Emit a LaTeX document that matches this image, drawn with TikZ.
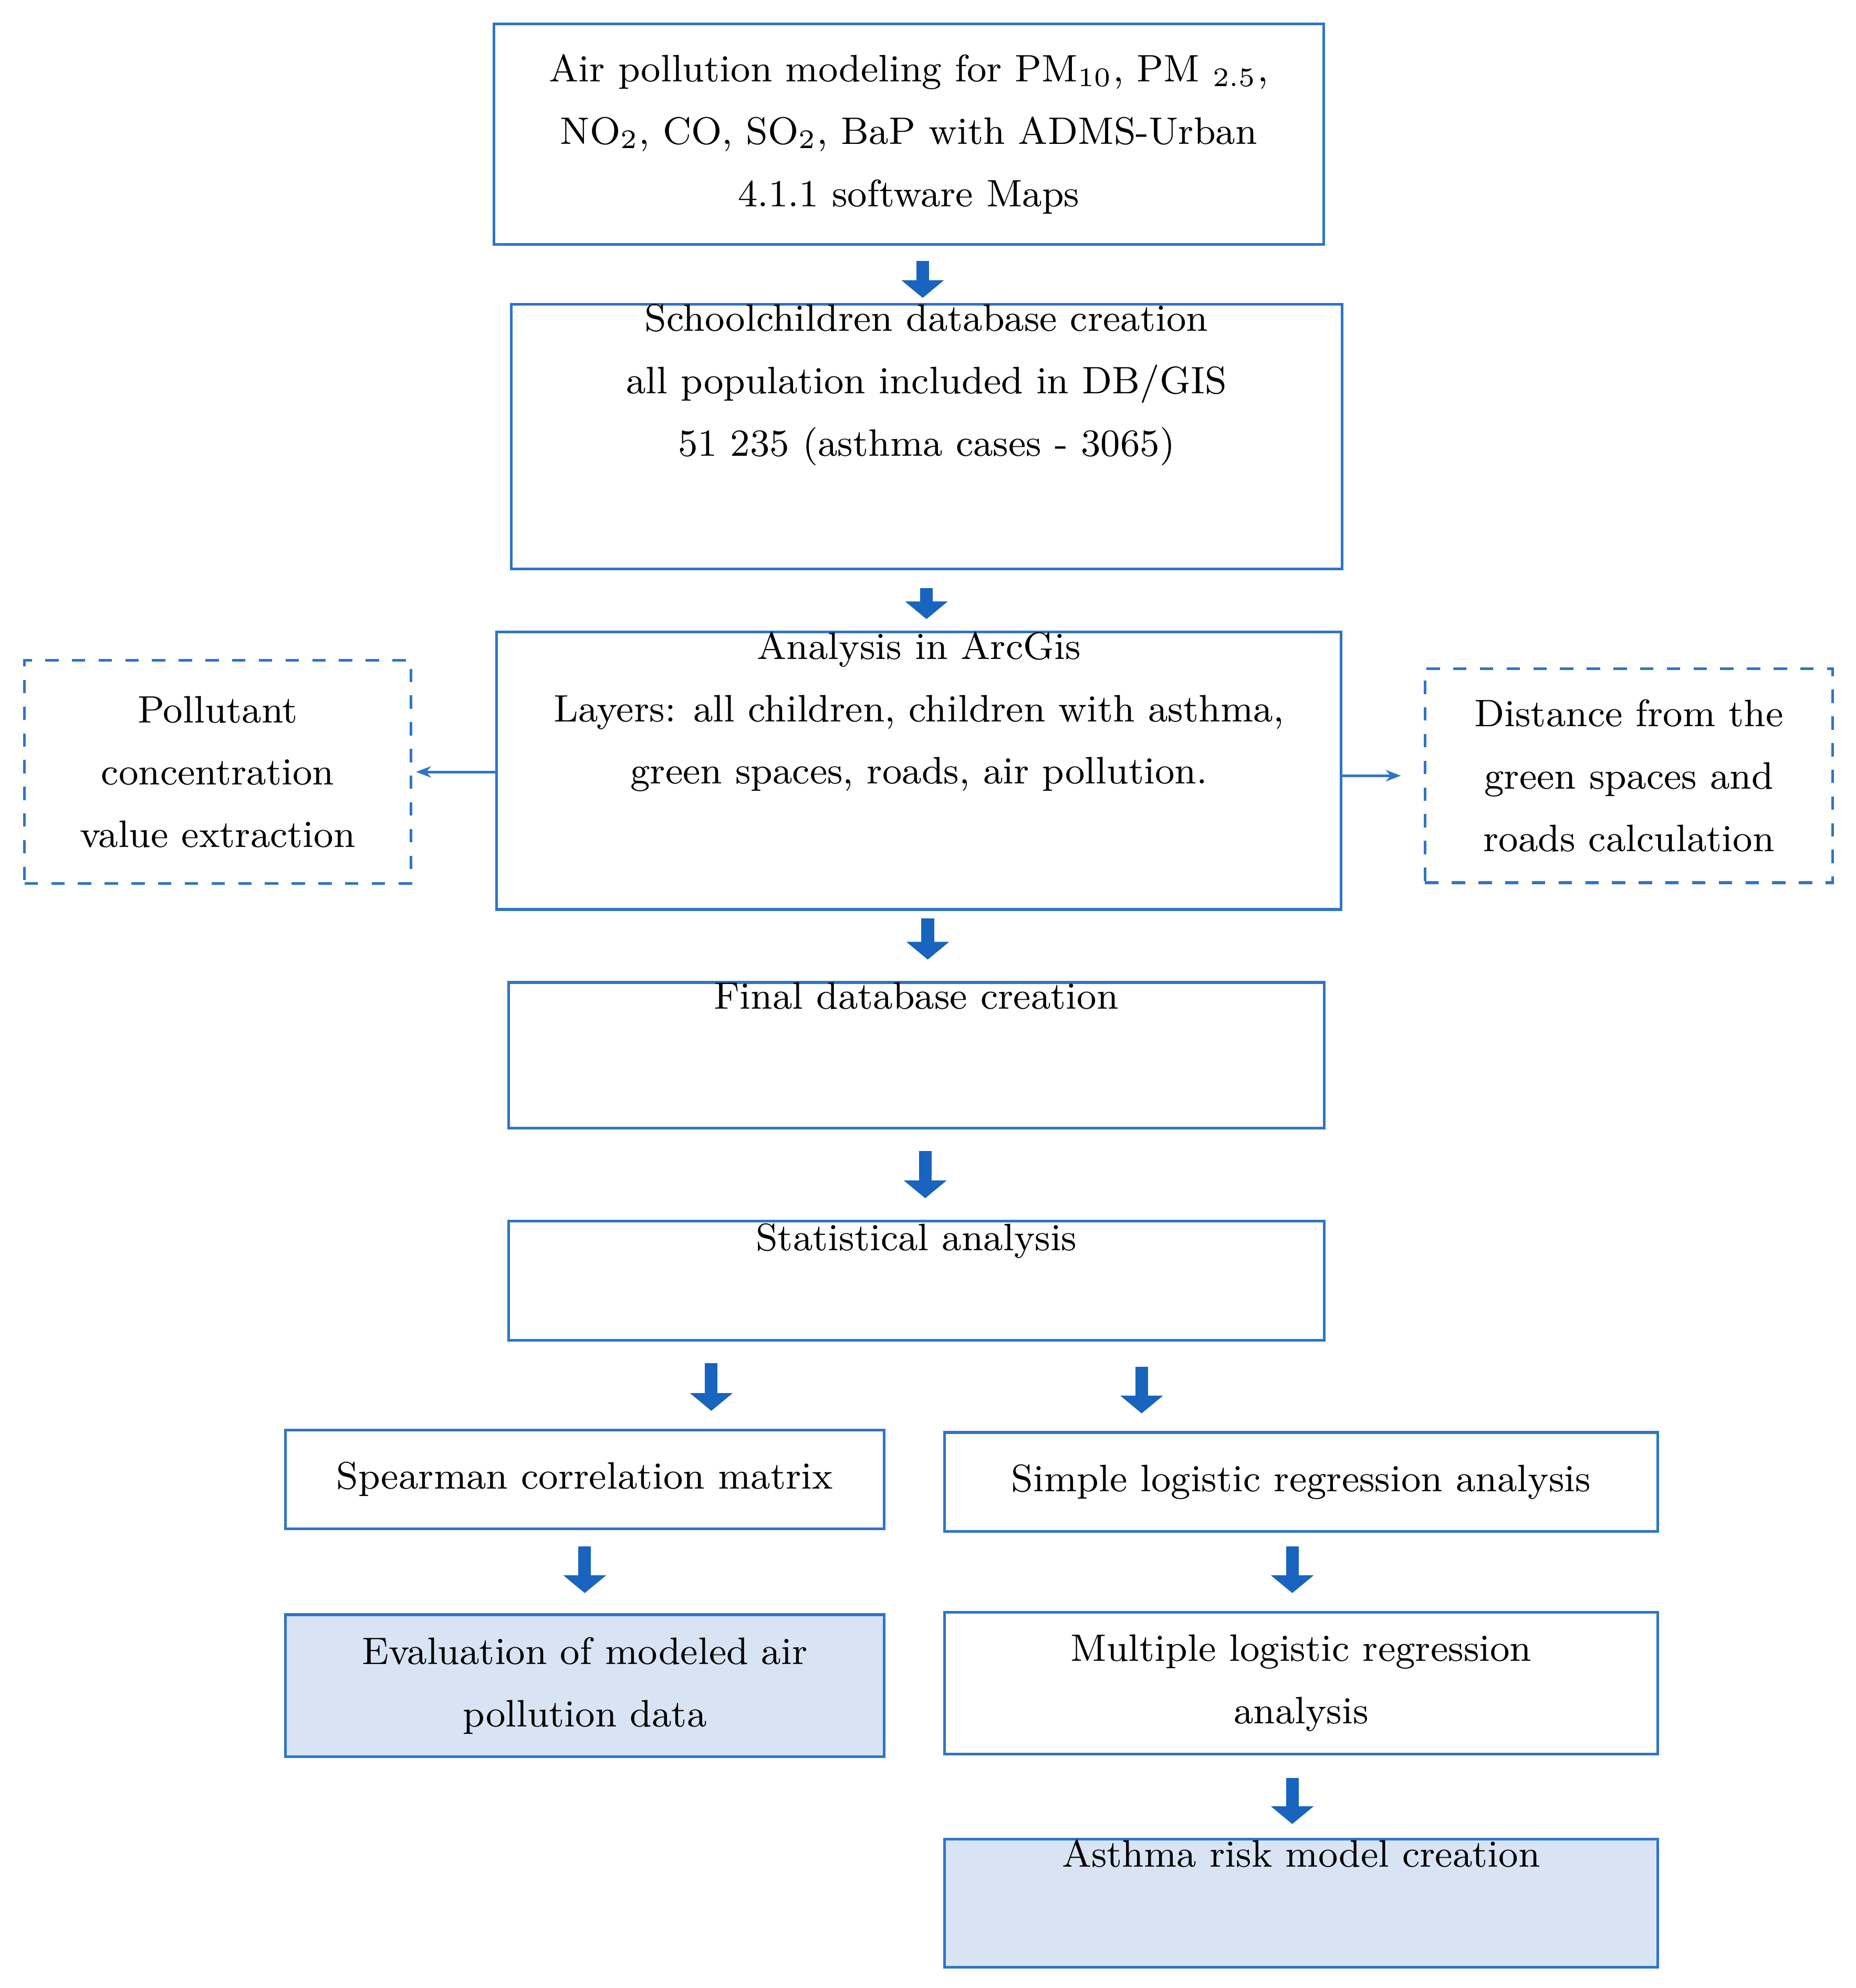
\documentclass[tikz,border=0pt]{standalone}
\usepackage{tikz}
\usetikzlibrary{arrows.meta}
\usetikzlibrary{calc}
\definecolor{frameblue}{RGB}{46,117,200}
\definecolor{arrowblue}{RGB}{24,100,190}
\definecolor{fillblue}{RGB}{216,228,243}
\begin{document}
\begin{tikzpicture}[x=0.01cm,y=-0.01cm,
	box/.style={draw=frameblue,semithick,align=center,inner sep=0pt,font=\fontsize{8.6}{14}\selectfont},
	dbox/.style={box,dashed},
	blk/.style={-{Triangle[length=1.4mm,width=3.3mm]},arrowblue,line width=1mm},
	thin arrow/.style={-{Stealth[length=1.2mm]},frameblue,semithick}]
			\useasboundingbox (0,0) rectangle (1466,1571);
			\node [box,minimum width=6.55cm,minimum height=1.74cm] (model) at (718,106) {Air pollution modeling for PM\textsubscript{10}, PM \textsubscript{2.5},\\NO\textsubscript{2}, CO, SO\textsubscript{2}, BaP with ADMS-Urban\\4.1.1 software Maps};
			\node [box,minimum width=6.56cm,minimum height=1.96cm] (school) at (732,345) {Schoolchildren database creation\\all population included in DB/GIS\\51 235 (asthma cases - 3065)\\[0.4cm]};
			\node [box,minimum width=6.67cm,minimum height=2.10cm] (arcgis) at (726,609) {Analysis in ArcGis\\Layers: all children, children with asthma,\\green spaces, roads, air pollution.\\[0.5cm]};
			\node [dbox,minimum width=3.05cm,minimum height=1.76cm] (extract) at (172,610) {Pollutant\\concentration\\value extraction};
			\node [dbox,minimum width=3.22cm,minimum height=1.69cm] (distance) at (1287,613) {Distance from the\\green spaces and\\roads calculation};
			\node [box,minimum width=6.44cm,minimum height=1.15cm] (final) at (724,834) {Final database creation\\[0.45cm]};
			\node [box,minimum width=6.44cm,minimum height=0.94cm] (stat) at (724,1012) {Statistical analysis\\[0.2cm]};
			\node [box,minimum width=4.73cm,minimum height=0.78cm] (spear) at (462,1169) {Spearman correlation matrix};
			\node [box,minimum width=5.63cm,minimum height=0.78cm] (simple) at (1028,1171) {Simple logistic regression analysis};
			\node [box,fill=fillblue,minimum width=4.73cm,minimum height=1.12cm] (eval) at (462,1332) {Evaluation of modeled air\\pollution data};
			\node [box,minimum width=5.63cm,minimum height=1.12cm] (multi) at (1028,1330) {Multiple logistic regression\\analysis};
			\node [box,fill=fillblue,minimum width=5.63cm,minimum height=1.01cm] (risk) at (1028,1504) {Asthma risk model creation\\[0.3cm]};
			\coordinate (sl) at (562,1059);
			\coordinate (sr) at (902,1059);
			\draw [blk,shorten <=1.2mm,shorten >=0.4mm] ([xshift=1.1mm]model.south) -- ([xshift=1.1mm]model.south |- school.north);
			\draw [blk,shorten <=1.4mm,shorten >=0.9mm] (school.south) -- (school.south |- arcgis.north);
			\draw [blk,shorten <=0.6mm,shorten >=1.7mm] ([xshift=0.7mm]arcgis.south) -- ([xshift=0.7mm]arcgis.south |- final.north);
			\draw [blk,shorten <=1.7mm,shorten >=1.7mm] ([xshift=0.7mm]final.south) -- ([xshift=0.7mm]final.south |- stat.north);
			\draw [blk,shorten <=1.8mm,shorten >=1.4mm] (sl) -- (sl |- spear.north);
			\draw [blk,shorten <=2.1mm,shorten >=1.4mm] (sr) -- (sr |- simple.north);
			\draw [blk,shorten <=1.3mm,shorten >=1.6mm] (spear.south) -- (spear.south |- eval.north);
			\draw [blk,shorten <=1.1mm,shorten >=1.4mm] ([xshift=-0.7mm]simple.south) -- ([xshift=-0.7mm]simple.south |- multi.north);
			\draw [blk,shorten <=1.8mm,shorten >=1.1mm] ([xshift=-0.7mm]multi.south) -- ([xshift=-0.7mm]multi.south |- risk.north);
			\draw [thin arrow,shorten >=0.3mm] (arcgis.west |- extract.east) -- (extract.east);
			\draw [thin arrow,shorten >=1.8mm] (arcgis.east |- distance.west) -- (distance.west);
		\end{tikzpicture}
\end{document}
